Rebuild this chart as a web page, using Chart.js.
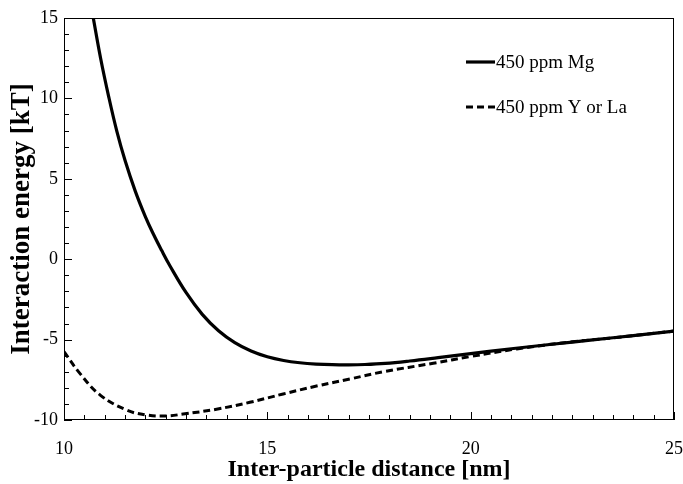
<!DOCTYPE html>
<html>
<head>
<meta charset="utf-8">
<script src="https://cdn.jsdelivr.net/npm/chart.js@4/dist/chart.umd.min.js"></script>
<style>
  html, body { margin: 0; padding: 0; background: #fff; }
  #wrap { width: 683px; height: 484px; }
</style>
</head>
<body>
<div id="wrap"><canvas id="c" width="683" height="484"></canvas></div>
<script>
// Series: 450 ppm Mg (solid)
const mgX = [10.72, 10.90, 11.10, 11.30, 11.50, 11.75, 12.00, 12.20, 12.40, 12.60, 13.00, 13.40, 13.80, 14.20, 14.60, 15.00, 15.40, 15.80, 16.20, 16.60, 17.00, 17.40, 17.90, 18.50, 19.20, 20.00, 21.00, 22.00, 23.00, 24.00, 25.00];
const mgY = [15.00, 12.50, 10.10, 7.95, 6.15, 4.25, 2.65, 1.55, 0.55, -0.39, -2.07, -3.43, -4.45, -5.19, -5.71, -6.07, -6.30, -6.44, -6.52, -6.56, -6.57, -6.55, -6.48, -6.33, -6.12, -5.87, -5.57, -5.29, -5.02, -4.75, -4.47];
// Series: 450 ppm Y or La (dashed)
const yLaX = [10.00, 10.39, 10.89, 11.54, 12.03, 12.52, 12.93, 13.75, 14.57, 15.39, 16.21, 17.03, 17.85, 19.08, 19.98, 21.13, 22.50, 23.59, 25.00];
const yLaY = [-5.75, -7.10, -8.45, -9.38, -9.69, -9.75, -9.63, -9.33, -8.90, -8.38, -7.89, -7.45, -7.00, -6.47, -6.06, -5.58, -5.14, -4.87, -4.47];
const seriesLabels = ['450 ppm Mg', '450 ppm Y or La'];
const xRange = [10, 25];
const yRange = [-10, 15];
const xTitle = 'Inter-particle distance [nm]';
const yTitle = 'Interaction energy [kT]';

const toPts = (xs, ys) => xs.map((x, i) => ({ x: x, y: ys[i] }));
const FONT = '"Liberation Serif", "Times New Roman", serif';

const framePlugin = {
  id: 'frameTicks',
  afterDatasetsDraw(chart) {
    const { ctx, chartArea: a, scales } = chart;
    ctx.save();
    ctx.strokeStyle = '#000';
    ctx.lineWidth = 1;
    ctx.strokeRect(a.left + 0.5, a.top + 0.5, a.right - a.left - 1, a.bottom - a.top - 1);
    ctx.beginPath();
    for (let v = xRange[0]; v <= xRange[1] + 1e-9; v += 0.5) {
      const px = Math.round(scales.x.getPixelForValue(v)) + 0.5;
      const major = Math.abs(v / 5 - Math.round(v / 5)) < 1e-9;
      const len = major ? 8 : 5;
      ctx.moveTo(px, a.bottom);
      ctx.lineTo(px, a.bottom - len);
    }
    for (let v = yRange[0]; v <= yRange[1] + 1e-9; v += 1) {
      const py = Math.round(scales.y.getPixelForValue(v)) + 0.5;
      const major = Math.abs(v / 5 - Math.round(v / 5)) < 1e-9;
      const len = major ? 8 : 5;
      ctx.moveTo(a.left, py);
      ctx.lineTo(a.left + len, py);
    }
    ctx.stroke();
    ctx.restore();
  }
};

const legendPlugin = {
  id: 'innerLegend',
  afterDraw(chart) {
    const { ctx } = chart;
    const rows = [62, 107];
    const x0 = 466, x1 = 495;
    ctx.save();
    chart.data.datasets.forEach((ds, i) => {
      const y = rows[i];
      ctx.strokeStyle = ds.borderColor;
      ctx.lineWidth = ds.borderWidth;
      ctx.setLineDash(ds.borderDash || []);
      ctx.beginPath();
      ctx.moveTo(x0, y);
      ctx.lineTo(x1, y);
      ctx.stroke();
      ctx.setLineDash([]);
      ctx.fillStyle = '#000';
      ctx.font = '19px ' + FONT;
      ctx.textBaseline = 'middle';
      ctx.textAlign = 'left';
      ctx.fillText(ds.label, x1 + 1, y + 1);
    });
    ctx.restore();
  }
};

new Chart(document.getElementById('c'), {
  type: 'line',
  data: {
    datasets: [
      {
        label: seriesLabels[0],
        data: toPts(mgX, mgY),
        borderColor: '#000',
        borderWidth: 3.2,
        pointRadius: 0,
        tension: 0.4,
        fill: false
      },
      {
        label: seriesLabels[1],
        data: toPts(yLaX, yLaY),
        borderColor: '#000',
        borderWidth: 3,
        borderDash: [7, 4],
        pointRadius: 0,
        tension: 0.4,
        fill: false
      }
    ]
  },
  options: {
    responsive: false,
    animation: false,
    events: [],
    layout: { padding: { top: 18, right: 9, left: 0, bottom: 0 } },
    plugins: { legend: { display: false }, tooltip: { enabled: false } },
    scales: {
      x: {
        type: 'linear',
        min: xRange[0], max: xRange[1],
        grid: { display: false, drawTicks: false },
        border: { display: false },
        ticks: { stepSize: 5, color: '#000', padding: 18, font: { family: FONT, size: 18 }, maxRotation: 0 },
        title: { display: true, text: xTitle, color: '#000', font: { family: FONT, size: 24, weight: 'bold' }, padding: { top: 3, bottom: 0 } },
        afterFit(s) { s.height = 64; s.paddingLeft = 0; s.paddingRight = 0; }
      },
      y: {
        type: 'linear',
        min: yRange[0], max: yRange[1],
        grid: { display: false, drawTicks: false },
        border: { display: false },
        ticks: { stepSize: 5, color: '#000', padding: 6, font: { family: FONT, size: 18 } },
        title: { display: true, text: yTitle, color: '#000', font: { family: FONT, size: 27, weight: 'bold' }, padding: { top: 6, bottom: 0 } },
        afterFit(s) { s.width = 64; s.paddingTop = 0; s.paddingBottom = 0; }
      }
    }
  },
  plugins: [framePlugin, legendPlugin]
});
</script>
</body>
</html>
